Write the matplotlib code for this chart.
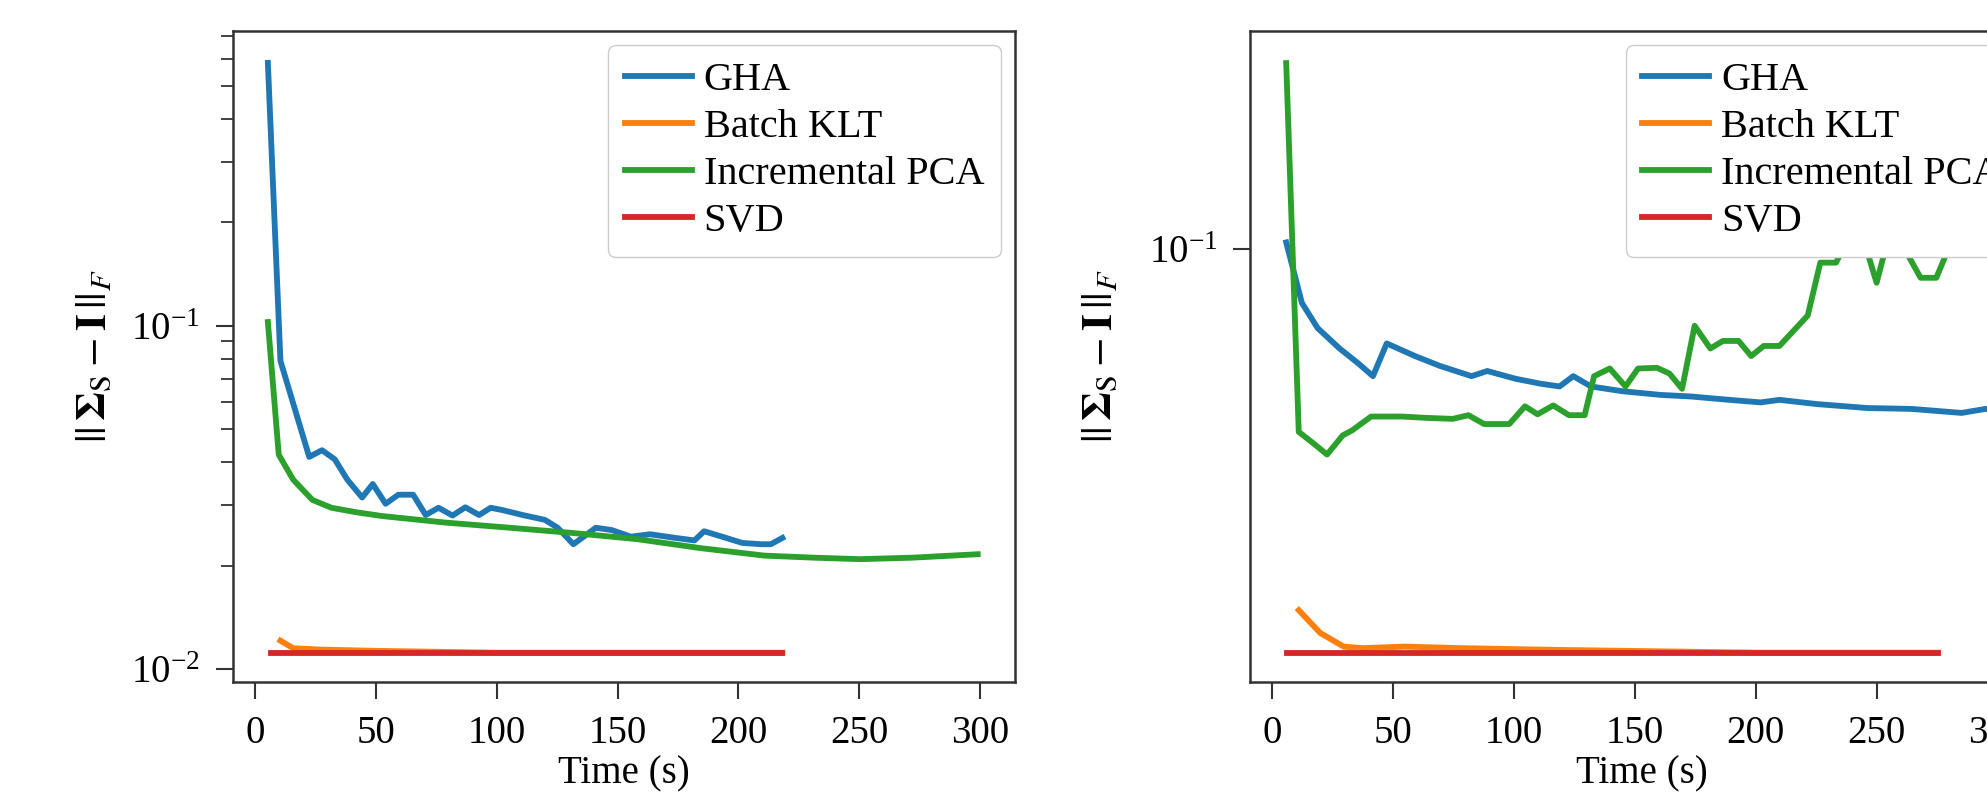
import numpy as np
import matplotlib
matplotlib.use('Agg')
import matplotlib.pyplot as plt
from matplotlib.ticker import NullLocator, FixedLocator

plt.rcParams['font.family'] = 'serif'
plt.rcParams['font.serif'] = ['Liberation Serif', 'DejaVu Serif']
plt.rcParams['mathtext.fontset'] = 'stix'

labels = ['GHA', 'Batch KLT', 'Incremental PCA', 'SVD']
colors = ['#1f77b4', '#ff7f0e', '#2ca02c', '#d62728']

# left panel
gha1_t = [5.3, 10.5, 22.4, 27.7, 33.0, 38.2, 44.3, 48.7, 54.0, 59.3, 65.4, 70.6, 75.9, 81.7,
          87.0, 92.7, 97.5, 102.8, 110.7, 119.9, 125.2, 131.7, 141.0, 147.6, 155.5, 163.4,
          173.9, 181.8, 185.8, 192.4, 201.6, 209.5, 213.4, 218.2]
gha1_v = [0.583, 0.079, 0.0415, 0.0434, 0.0408, 0.0356, 0.0316, 0.0346, 0.0303, 0.0322, 0.0322,
          0.0281, 0.0295, 0.0280, 0.0296, 0.0281, 0.0295, 0.0290, 0.0281, 0.0272, 0.0258, 0.0231,
          0.0258, 0.0254, 0.0243, 0.0247, 0.0241, 0.0237, 0.0252, 0.0244, 0.0233, 0.0231, 0.0231,
          0.0241]
klt1_t = [10.5, 15.8, 26.3, 50.0, 100.0, 150.0, 218.2]
klt1_v = [0.0121, 0.0115, 0.0114, 0.0113, 0.01116, 0.01116, 0.01116]
ipca1_t = [5.3, 9.8, 15.8, 23.7, 31.6, 42.2, 52.7, 79.0, 105.4, 131.7, 158.1, 184.4, 210.8,
           231.9, 250.3, 271.4, 299.0]
ipca1_v = [0.1025, 0.0421, 0.0356, 0.0311, 0.0295, 0.0286, 0.0279, 0.0267, 0.0258, 0.0249,
           0.0239, 0.0225, 0.0214, 0.0211, 0.0209, 0.0211, 0.0216]
svd1_t = [6.6, 218.2]
svd1_v = [0.01116, 0.01116]

# right panel
gha2_t = [5.7, 12.2, 18.7, 27.8, 35.6, 41.6, 47.3, 59.0, 69.4, 82.4, 88.9, 100.6, 111.0, 118.8,
          124.5, 131.8, 144.8, 160.4, 173.4, 189.0, 202.0, 209.8, 225.4, 246.2, 264.4, 285.2,
          295.0, 302.0]
gha2_v = [0.1035, 0.0754, 0.0661, 0.0594, 0.0549, 0.0514, 0.0610, 0.0571, 0.0542, 0.0514, 0.0528,
          0.0507, 0.0494, 0.0487, 0.0514, 0.0487, 0.0475, 0.0466, 0.0462, 0.0454, 0.0448, 0.0454,
          0.0444, 0.0435, 0.0433, 0.0424, 0.0433, 0.0430]
klt2_t = [10.9, 19.8, 29.5, 37.3, 54.7, 78.0, 116.7, 200.0, 275.2]
klt2_v = [0.0151, 0.0134, 0.01248, 0.01238, 0.01248, 0.01238, 0.01227, 0.01209, 0.01209]
ipca2_t = [5.7, 10.9, 17.4, 22.6, 29.1, 33.0, 40.8, 53.8, 64.2, 74.6, 81.1, 87.6, 98.0, 104.5,
           109.7, 116.2, 122.7, 129.2, 133.1, 139.6, 146.1, 151.3, 159.1, 164.3, 169.5, 174.7,
           181.2, 186.4, 192.9, 198.1, 203.3, 209.8, 221.5, 226.7, 233.2, 238.0, 246.5, 250.0,
           253.0, 262.0, 268.2, 274.7, 279.0, 284.0, 290.0, 300.0]
ipca2_v = [0.2645, 0.0384, 0.0360, 0.0341, 0.0377, 0.0387, 0.0416, 0.0416, 0.0413, 0.0411, 0.0419,
           0.0400, 0.0400, 0.0439, 0.0421, 0.0441, 0.0419, 0.0419, 0.0514, 0.0535, 0.0487, 0.0535,
           0.0537, 0.0521, 0.0481, 0.0669, 0.0594, 0.0618, 0.0618, 0.0571, 0.0602, 0.0602, 0.0706,
           0.0931, 0.0931, 0.105, 0.097, 0.0838, 0.097, 0.099, 0.086, 0.086, 0.098, 0.11, 0.12,
           0.115]
svd2_t = [6.2, 275.2]
svd2_v = [0.01209, 0.01209]

xticks = [0, 50, 100, 150, 200, 250, 300]
ylabel = r'$||\,\mathbf{\Sigma}_{\mathrm{S}} - \mathbf{I}\,||_F$'

fig = plt.figure(figsize=(19.87, 7.92), dpi=100)
ax1 = fig.add_axes([0.1173, 0.1389, 0.3936, 0.822])
ax2 = fig.add_axes([0.6293, 0.1389, 0.3936, 0.822])

panels = [
    (ax1, [(gha1_t, gha1_v), (klt1_t, klt1_v), (ipca1_t, ipca1_v), (svd1_t, svd1_v)]),
    (ax2, [(gha2_t, gha2_v), (klt2_t, klt2_v), (ipca2_t, ipca2_v), (svd2_t, svd2_v)]),
]

for ax, series in panels:
    for (t, v), lab, c in zip(series, labels, colors):
        ax.plot(t, v, color=c, lw=4.2, label=lab)
    ax.set_yscale('log')
    ax.set_xlim(-9.1, 314.5)
    ax.set_xticks(xticks)
    ax.set_xlabel('Time (s)', fontsize=28, labelpad=2)
    ax.set_ylabel(ylabel, fontsize=31)
    ax.tick_params(axis='both', which='major', labelsize=28, length=12, width=1.5, pad=12,
                   color='#333333')
    ax.tick_params(axis='y', which='minor', length=8.5, width=1.3, color='#333333')
    for s in ax.spines.values():
        s.set_linewidth(1.8)
        s.set_color('#333333')
    ax.legend(loc='upper right', fontsize=29, handlelength=1.65, handletextpad=0.3,
              labelspacing=0.24, borderpad=0.42, borderaxespad=0.35, framealpha=1.0,
              edgecolor='0.8')

ax1.set_ylim(0.00917, 0.722)
ax1.yaxis.set_label_coords(-0.15, 0.5)

ax2.set_ylim(0.01037, 0.313)
ax2.yaxis.set_major_locator(FixedLocator([0.1]))
ax2.yaxis.set_minor_locator(NullLocator())
ax2.yaxis.set_label_coords(-0.165, 0.5)

fig.savefig('out.png', dpi=100)
